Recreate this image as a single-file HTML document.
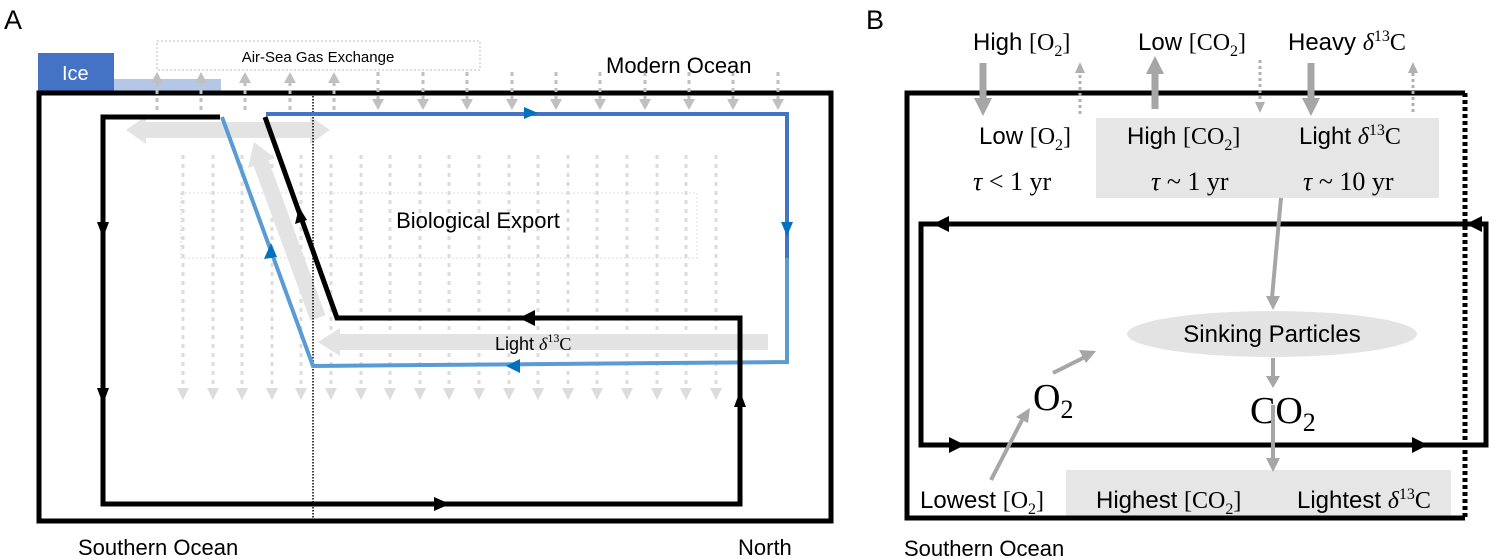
<!DOCTYPE html>
<html><head><meta charset="utf-8"><style>
html,body{margin:0;padding:0;background:#fff;width:1500px;height:559px;overflow:hidden}
svg{display:block}
text{font-family:"Liberation Sans",sans-serif;fill:#000}
.s{font-family:"Liberation Serif",serif}
</style></head><body>
<svg width="1500" height="559" viewBox="0 0 1500 559" xmlns="http://www.w3.org/2000/svg">

<!-- Panel A -->
<text x="4" y="29" font-size="27">A</text>
<rect x="38" y="53" width="76" height="38" fill="#4472c4"/>
<text x="62" y="80" font-size="20" style="fill:#fff">Ice</text>
<rect x="114" y="79" width="107" height="12" fill="#b4c7e7"/>
<rect x="157" y="41" width="323" height="29" fill="none" stroke="#bbb" stroke-width="1" stroke-dasharray="2,2"/>
<text x="318" y="62" font-size="15" text-anchor="middle">Air-Sea Gas Exchange</text>

<g stroke="#dcdcdc" stroke-width="3" stroke-dasharray="4,5">
<path d="M183,155V388M213,155V388M242,155V388M272,155V388M301,155V388M331,155V388M361,155V388M390,155V388M420,155V388M449,155V388M479,155V388M509,155V388M538,155V388M568,155V388M597,155V388M627,155V388M657,155V388M686,155V388M716,155V388"/>
</g>
<g fill="#dcdcdc">
<path d="M177,388h12l-6,12zM207,388h12l-6,12zM236,388h12l-6,12zM266,388h12l-6,12zM295,388h12l-6,12zM325,388h12l-6,12zM355,388h12l-6,12zM384,388h12l-6,12zM414,388h12l-6,12zM443,388h12l-6,12zM473,388h12l-6,12zM503,388h12l-6,12zM532,388h12l-6,12zM562,388h12l-6,12zM591,388h12l-6,12zM621,388h12l-6,12zM651,388h12l-6,12zM680,388h12l-6,12zM710,388h12l-6,12z"/>
</g>
<rect x="181" y="193" width="516" height="65" fill="none" stroke="#ddd" stroke-width="1" stroke-dasharray="2,2"/>
<text x="478" y="228" font-size="22" text-anchor="middle">Biological Export</text>

<rect x="39" y="93" width="792" height="428" fill="none" stroke="#000" stroke-width="5"/>
<g stroke="#c0c0c0" stroke-width="3" stroke-dasharray="4,4">
<path d="M157,110V82M201,110V82M245,110V82M290,110V82M334,110V82"/>
<path d="M378,72V100M423,72V100M467,72V100M512,72V100M556,72V100M600,72V100M645,72V100M689,72V100M733,72V100M778,72V100"/>
</g>
<g fill="#c0c0c0">
<path d="M151,83h12l-6,-11zM195,83h12l-6,-11zM239,83h12l-6,-11zM284,83h12l-6,-11zM328,83h12l-6,-11z"/>
<path d="M372,99h12l-6,11zM417,99h12l-6,11zM461,99h12l-6,11zM506,99h12l-6,11zM550,99h12l-6,11zM594,99h12l-6,11zM639,99h12l-6,11zM683,99h12l-6,11zM727,99h12l-6,11zM772,99h12l-6,11z"/>
</g>

<path d="M145,130H312" stroke="#e3e3e3" stroke-width="16"/>
<path d="M126,130l20,-14v28z M330,130l-20,-14v28z" fill="#e3e3e3"/>
<path d="M318,318L261,163" stroke="#e3e3e3" stroke-width="16"/>
<path d="M254,142L275,158L248,168z" fill="#e3e3e3"/>
<path d="M768,342H340" stroke="#e3e3e3" stroke-width="16"/>
<path d="M318,342l22,-14v28z" fill="#e3e3e3"/>
<text x="495" y="350" font-size="18">Light <tspan class="s" font-style="italic">δ</tspan><tspan class="s" font-size="12" dy="-8">13</tspan><tspan class="s" dy="8">C</tspan></text>

<path d="M313,93V521" stroke="#000" stroke-width="1.5" stroke-dasharray="1.5,1.5"/>

<path d="M266,114H787V260" fill="none" stroke="#4472c4" stroke-width="4"/>
<path d="M787,258V362L313,366L222,117" fill="none" stroke="#5b9bd5" stroke-width="4"/>
<path d="M524,107l14,6l-14,6z" fill="#0070c0"/>
<path d="M781,222l6,14l6,-14z" fill="#0070c0"/>
<path d="M506,366l14,-7v14z" fill="#0070c0"/>
<path d="M264,259l7,-16l6,14z" fill="#0070c0"/>

<path d="M220,117H103V504H740V318H337L265,117" fill="none" stroke="#000" stroke-width="5"/>
<path d="M97,222l6,16l6,-16z M97,388l6,16l6,-16z M434,497l16,7l-16,7z M734,407l6,-16l6,16z M519,318l16,-8v16z M295,224l4,-17l8,13z" fill="#000"/>

<text x="606" y="73" font-size="22">Modern Ocean</text>
<text x="78" y="555" font-size="22">Southern Ocean</text>
<text x="738" y="555" font-size="22">North</text>

<!-- Panel B -->
<text x="866" y="29" font-size="27">B</text>
<rect x="1096" y="118" width="343" height="80" fill="#e6e6e6"/>
<rect x="1066" y="470" width="385" height="48" fill="#e6e6e6"/>
<path d="M1465,93H907V518H1465" fill="none" stroke="#000" stroke-width="5"/>
<path d="M1465,93V518" stroke="#000" stroke-width="5" stroke-dasharray="4,3"/>
<path d="M1486,224H921V445H1486z" fill="none" stroke="#000" stroke-width="5"/>
<path d="M933,224l16,-8v16z M1466,224l16,-8v16z M949,437l16,8l-16,8z M1412,437l16,8l-16,8z" fill="#000"/>

<g font-size="24">
<text x="973" y="50">High <tspan class="s">[O</tspan><tspan class="s" font-size="16" dy="6">2</tspan><tspan class="s" dy="-6">]</tspan></text>
<text x="1138" y="50">Low <tspan class="s">[CO</tspan><tspan class="s" font-size="16" dy="6">2</tspan><tspan class="s" dy="-6">]</tspan></text>
<text x="1288" y="50">Heavy <tspan class="s" font-style="italic">δ</tspan><tspan class="s" font-size="16" dy="-9">13</tspan><tspan class="s" dy="9">C</tspan></text>
<text x="979" y="144">Low <tspan class="s">[O</tspan><tspan class="s" font-size="16" dy="6">2</tspan><tspan class="s" dy="-6">]</tspan></text>
<text x="1127" y="144">High <tspan class="s">[CO</tspan><tspan class="s" font-size="16" dy="6">2</tspan><tspan class="s" dy="-6">]</tspan></text>
<text x="1299" y="144">Light <tspan class="s" font-style="italic">δ</tspan><tspan class="s" font-size="16" dy="-9">13</tspan><tspan class="s" dy="9">C</tspan></text>
</g>
<g font-size="26">
<text class="s" x="973" y="190"><tspan font-style="italic">τ</tspan> &lt; 1 yr</text>
<text class="s" x="1151" y="190"><tspan font-style="italic">τ</tspan> ~ 1 yr</text>
<text class="s" x="1303" y="190"><tspan font-style="italic">τ</tspan> ~ 10 yr</text>
</g>
<path d="M983,63V100" stroke="#a6a6a6" stroke-width="7"/><path d="M974,98h18l-9,18z" fill="#a6a6a6"/>
<path d="M1155,109V72" stroke="#a6a6a6" stroke-width="7"/><path d="M1146,74h18l-9,-18z" fill="#a6a6a6"/>
<path d="M1311,63V100" stroke="#a6a6a6" stroke-width="7"/><path d="M1302,98h18l-9,18z" fill="#a6a6a6"/>
<g stroke="#b0b0b0" stroke-width="3" stroke-dasharray="3,3"><path d="M1080,114V72M1260,60V102M1413,112V72"/></g>
<path d="M1075,73h10l-5,-11z M1255,102h10l-5,11z M1408,73h10l-5,-11z" fill="#b0b0b0"/>

<path d="M1281,198L1272,298" stroke="#a6a6a6" stroke-width="4"/>
<path d="M1266,296h14l-7,14z" fill="#a6a6a6"/>
<ellipse cx="1272" cy="334" rx="145" ry="23" fill="#e3e3e3"/>
<text x="1272" y="342" font-size="24" text-anchor="middle">Sinking Particles</text>
<path d="M1273,358V378" stroke="#a6a6a6" stroke-width="4"/><path d="M1266,376h14l-7,12z" fill="#a6a6a6"/>
<path d="M1053,373L1085,357" stroke="#a6a6a6" stroke-width="4"/><path d="M1096,351l-17,-1l7,13z" fill="#a6a6a6"/>
<text class="s" x="1033" y="410" font-size="38">O<tspan font-size="26" dy="8">2</tspan></text>
<text class="s" x="1250" y="423" font-size="38">CO<tspan font-size="26" dy="8">2</tspan></text>
<path d="M1273,405V460" stroke="#a6a6a6" stroke-width="4"/><path d="M1266,458h14l-7,14z" fill="#a6a6a6"/>
<path d="M991,480L1022,420" stroke="#a6a6a6" stroke-width="4"/><path d="M1030,408l-14,9l12,6z" fill="#a6a6a6"/>

<g font-size="24">
<text x="920" y="508">Lowest <tspan class="s">[O</tspan><tspan class="s" font-size="16" dy="6">2</tspan><tspan class="s" dy="-6">]</tspan></text>
<text x="1096" y="508">Highest <tspan class="s">[CO</tspan><tspan class="s" font-size="16" dy="6">2</tspan><tspan class="s" dy="-6">]</tspan></text>
<text x="1297" y="508">Lightest <tspan class="s" font-style="italic">δ</tspan><tspan class="s" font-size="16" dy="-9">13</tspan><tspan class="s" dy="9">C</tspan></text>
</g>
<text x="904" y="556" font-size="22">Southern Ocean</text>
</svg>
</body></html>
